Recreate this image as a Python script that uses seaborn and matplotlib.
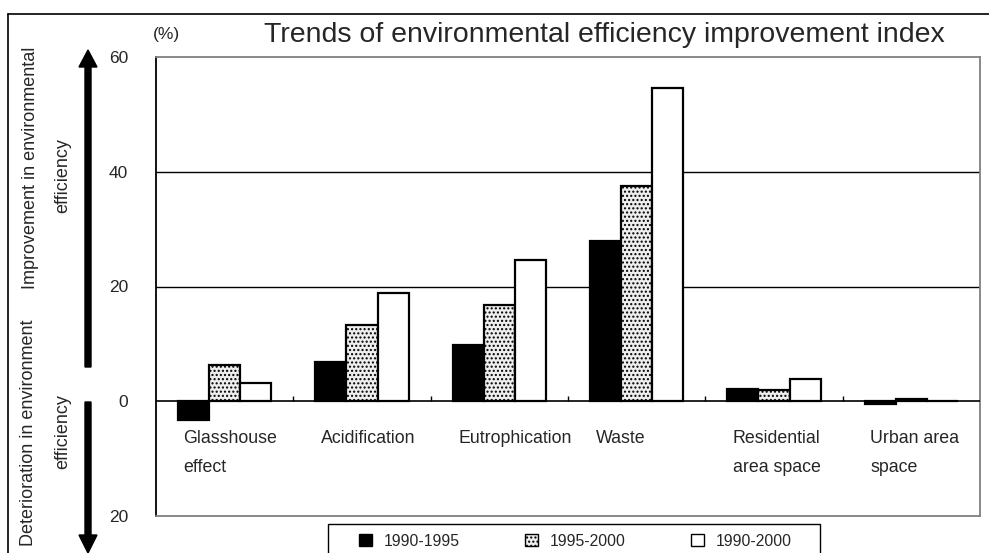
import matplotlib
matplotlib.use("Agg")
import matplotlib.pyplot as plt
from matplotlib.patches import Patch, FancyArrow, Rectangle
import seaborn as sns
import pandas as pd

categories = ["Glasshouse\neffect", "Acidification", "Eutrophication", "Waste",
              "Residential\narea space", "Urban area\nspace"]
periods = ["1990-1995", "1995-2000", "1990-2000"]
v_1990_1995 = [-3.3, 6.8, 9.8, 28.0, 2.2, -0.5]
v_1995_2000 = [6.4, 13.3, 16.7, 37.5, 2.0, 0.45]
v_1990_2000 = [3.2, 18.9, 24.7, 54.6, 3.9, 0.0]
ytick_vals = [-20, 0, 20, 40, 60]
ytick_labels = ["20", "0", "20", "40", "60"]

sns.set_theme(style="white")
FONT = ["Liberation Sans", "DejaVu Sans"]
plt.rcParams["font.family"] = FONT
plt.rcParams["hatch.linewidth"] = 1.0
plt.rcParams["hatch.color"] = "#444444"

rows = []
for p, vals in zip(periods, [v_1990_1995, v_1995_2000, v_1990_2000]):
    for c, v in zip(categories, vals):
        rows.append({"category": c, "period": p, "value": v})
df = pd.DataFrame(rows)

fig = plt.figure(figsize=(9.89, 5.53), dpi=100)
ax = fig.add_axes([156 / 989, 1 - 516 / 553, (980 - 156) / 989, (516 - 57) / 553])

fills = ["black", "#eeeeee", "white"]
sns.barplot(data=df, x="category", y="value", hue="period", order=categories,
            hue_order=periods, palette=fills, width=0.68, edgecolor="black",
            linewidth=1.6, ax=ax, legend=False, saturation=1, zorder=3)
for bar in ax.containers[1]:
    bar.set_hatch("....")

ax.set_xlim(-0.5, len(categories) - 0.5)
ax.set_ylim(-20, 60)
ax.set_yticks(ytick_vals)
ax.set_yticklabels(ytick_labels, fontsize=12.5)
ax.tick_params(axis="y", length=0, pad=20)
ax.set_xticks([])
ax.set_xlabel("")
ax.set_ylabel("")
for y in [20, 40]:
    ax.axhline(y, color="black", lw=1.0, zorder=1)
ax.axhline(0, color="black", lw=1.2, zorder=4)
ax.vlines([i + 0.5 for i in range(len(categories) - 1)], 0, 0.9, color="black", lw=1.0, zorder=4)

for i, c in enumerate(categories):
    ax.text(i - 0.30, -5.0, c, ha="left", va="top", fontsize=12.8, linespacing=1.95)

ax.spines["left"].set_color("black")
for s in ["top", "right", "bottom"]:
    ax.spines[s].set_color("#808080")
for s in ax.spines.values():
    s.set_linewidth(1.3)

# legend (frame drawn separately below)
handles = [Patch(facecolor=fills[0], edgecolor="black"),
           Patch(facecolor=fills[1], edgecolor="black", hatch="...."),
           Patch(facecolor=fills[2], edgecolor="black")]
leg = ax.legend(handles, periods, ncol=3, loc="center left",
                bbox_to_anchor=(359 / 989, 1 - 541 / 553), bbox_transform=fig.transFigure,
                fontsize=11.3, frameon=False,
                handlelength=0.8, handleheight=0.8, handletextpad=0.75,
                columnspacing=4.2, borderpad=0, borderaxespad=0)

# overlay in pixel coordinates for decorations
ov = fig.add_axes([0, 0, 1, 1], zorder=-1)
ov.set_xlim(0, 989)
ov.set_ylim(553, 0)
ov.axis("off")
ov.plot([8, 989], [14, 14], color="black", lw=1.2)
ov.plot([8, 8], [14, 553], color="black", lw=1.2)
ov.add_patch(Rectangle((328, 524), 492, 40, facecolor="white", edgecolor="black", lw=1.0))
ov.add_patch(FancyArrow(88, 367, 0, -317, width=6, head_width=18, head_length=17,
                        length_includes_head=True, color="black"))
ov.add_patch(FancyArrow(88, 402, 0, 151, width=6, head_width=18, head_length=18,
                        length_includes_head=True, color="black"))
ov.text(31, 168, "Improvement in environmental", rotation=90, ha="center", va="center", fontsize=13)
ov.text(63, 176, "efficiency", rotation=90, ha="center", va="center", fontsize=13)
ov.text(29, 433, "Deterioration in environment", rotation=90, ha="center", va="center", fontsize=13)
ov.text(63, 432, "efficiency", rotation=90, ha="center", va="center", fontsize=13)
ov.text(166, 34, "(%)", ha="center", va="center", fontsize=12.5)
ov.text(604, 35, "Trends of environmental efficiency improvement index", ha="center", va="center",
        fontsize=20.5)

fig.savefig("out.png", dpi=100)
